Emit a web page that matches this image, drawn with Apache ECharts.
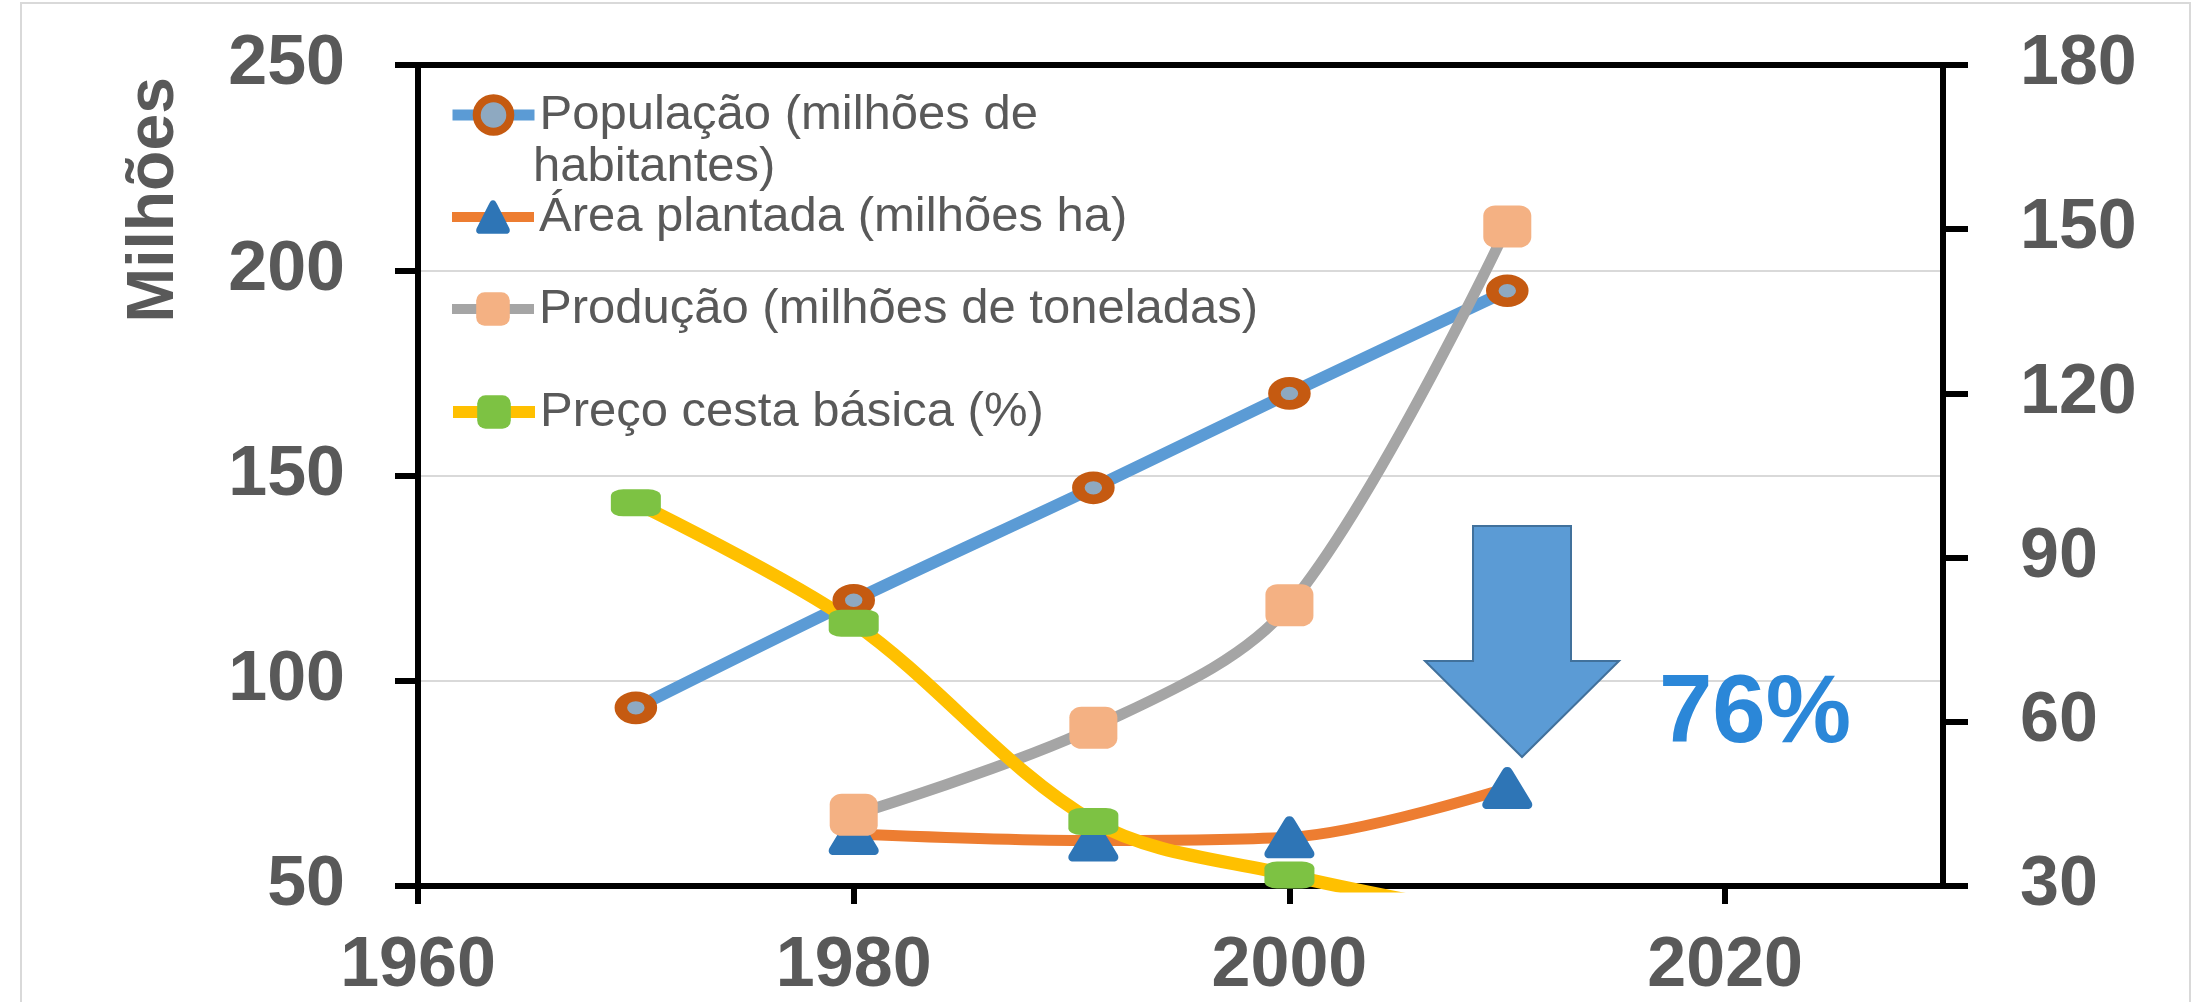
<!DOCTYPE html>
<html><head><meta charset="utf-8">
<script src="https://cdn.jsdelivr.net/npm/echarts@6/dist/echarts.min.js"></script>
<style>html,body{margin:0;padding:0;background:#fff}#c{width:2207px;height:1002px}</style>
</head><body><div id="c"></div>
<script>
// ---- data ----
const yearsPop = [1970, 1980, 1991, 2000, 2010];
const populacao = [93.4, 119.6, 147, 170, 195];
const yearsAgro = [1980, 1991, 2000, 2010];
const areaPlantada = [39.5, 38.3, 38.9, 47.9];
const producao = [43, 58.9, 81.3, 150.5];
const yearsPreco = [1970, 1980, 1991, 2000, 2010];
const precoCesta = [100, 78, 41.8, 32, 24];
const xTicks = [1960, 1980, 2000, 2020];
const leftAxisRange = [50, 250, 50];
const rightAxisRange = [30, 180, 30];
const names = ['População (milhões de habitantes)', 'Área plantada (milhões ha)', 'Produção (milhões de toneladas)', 'Preço cesta básica (%)'];
const legendLabels = ['População (milhões de', 'Área plantada (milhões ha)', 'Produção (milhões de toneladas)', 'Preço cesta básica (%)'];
const legendSecondLine = 'habitantes)';
const quedaLabel = '76%';
const yTitle = 'Milhões';

const pairs = (xs, ys) => xs.map((x, i) => [x, ys[i]]);
const FONT = 'Liberation Sans, Arial, sans-serif';
const GRAY = '#595959';
const SMOOTH = 0.33;
const ellipse = 'path://M0,50 A50,50 0 1,1 100,50 A50,50 0 1,1 0,50 Z';
const tri = 'path://M50,4 C56,4 58,8 61,14 L96,80 C100,88 97,96 88,96 L12,96 C3,96 0,88 4,80 L39,14 C42,8 44,4 50,4 Z';

const chart = echarts.init(document.getElementById('c'), null, {renderer: 'canvas'});

function mkLegend(i, top, lw, bw) {
  return {
    data: [names[i]], left: 447, top: top, orient: 'vertical', padding: 0,
    itemWidth: 82, itemHeight: 42, selectedMode: false,
    formatter: () => legendLabels[i],
    textStyle: {fontSize: 49, color: GRAY, fontFamily: FONT, lineHeight: 52},
    lineStyle: {width: lw},
    itemStyle: {borderWidth: bw}
  };
}

const axisLineStyle = {color: '#000', width: 6};
const labelStyle = {fontSize: 70, fontWeight: 'bold', color: GRAY, fontFamily: FONT};

chart.setOption({
  backgroundColor: '#fff',
  animation: false,
  grid: {left: 418, right: 264, top: 65, bottom: 110, containLabel: false},
  legend: [
    mkLegend(0, 115 - 26, 11, 8),
    mkLegend(1, 217 - 26, 10, 0),
    mkLegend(2, 309 - 26, 10, 0),
    mkLegend(3, 412 - 26, 12, 0)
  ],
  xAxis: [{
    type: 'value', position: 'bottom', min: 1960, max: 2030, interval: 20,
    axisLine: {show: true, lineStyle: axisLineStyle},
    axisTick: {show: true, length: 18, lineStyle: axisLineStyle, customValues: xTicks},
    axisLabel: Object.assign({margin: 46, customValues: xTicks, formatter: v => String(v)}, labelStyle),
    splitLine: {show: false}
  }, {
    type: 'value', position: 'top', min: 1960, max: 2030,
    axisLine: {show: true, lineStyle: axisLineStyle},
    axisTick: {show: false}, axisLabel: {show: false}, splitLine: {show: false}
  }],
  yAxis: [{
    type: 'value', position: 'left', min: leftAxisRange[0], max: leftAxisRange[1], interval: leftAxisRange[2],
    axisLine: {show: true, lineStyle: axisLineStyle},
    axisTick: {show: true, length: 23, lineStyle: axisLineStyle},
    axisLabel: Object.assign({margin: 73}, labelStyle),
    splitLine: {show: true, lineStyle: {color: '#D9D9D9', width: 2}}
  }, {
    type: 'value', position: 'right', min: rightAxisRange[0], max: rightAxisRange[1], interval: rightAxisRange[2],
    axisLine: {show: true, lineStyle: axisLineStyle},
    axisTick: {show: true, length: 25, lineStyle: axisLineStyle},
    axisLabel: Object.assign({margin: 77}, labelStyle),
    splitLine: {show: false}
  }],
  series: [{
    name: names[0], type: 'line', xAxisIndex: 0, yAxisIndex: 0, smooth: SMOOTH, clip: true,
    data: pairs(yearsPop, populacao),
    lineStyle: {color: '#5B9BD5', width: 12},
    symbol: ellipse, symbolSize: [30, 23],
    itemStyle: {color: '#8EA9C1', borderColor: '#C55A11', borderWidth: 11}
  }, {
    name: names[1], type: 'line', xAxisIndex: 0, yAxisIndex: 1, smooth: SMOOTH, clip: true,
    data: pairs(yearsAgro, areaPlantada),
    lineStyle: {color: '#ED7D31', width: 11},
    symbol: tri, symbolSize: [50, 42],
    itemStyle: {color: '#2E75B6'}
  }, {
    name: names[2], type: 'line', xAxisIndex: 0, yAxisIndex: 1, smooth: SMOOTH, clip: true,
    data: pairs(yearsAgro, producao),
    lineStyle: {color: '#A5A5A5', width: 11},
    symbol: 'roundRect', symbolSize: [48, 42],
    itemStyle: {color: '#F4B183'}
  }, {
    name: names[3], type: 'line', xAxisIndex: 0, yAxisIndex: 1, smooth: SMOOTH, clip: true,
    data: pairs(yearsPreco, precoCesta),
    lineStyle: {color: '#FFC000', width: 13},
    symbol: 'roundRect', symbolSize: [50, 27],
    itemStyle: {color: '#7DC243'}
  }],
  graphic: [
    {type: 'rect', shape: {x: 21, y: 3, width: 2169, height: 1100}, style: {fill: 'none', stroke: '#D9D9D9', lineWidth: 2}, z: -1},
    {type: 'text', x: 155, y: 200, rotation: Math.PI / 2,
     style: {text: yTitle, fontSize: 66, fontWeight: 'bold', fill: GRAY, fontFamily: FONT, align: 'center', verticalAlign: 'middle'}},
    {type: 'text', x: 533, y: 167,
     style: {text: legendSecondLine, fontSize: 49, fill: GRAY, fontFamily: FONT, align: 'left', verticalAlign: 'middle'}},
    {type: 'polygon', shape: {points: [[1473, 526], [1571, 526], [1571, 661], [1619, 661], [1522, 757], [1425, 661], [1473, 661]]},
     style: {fill: '#5B9BD5', stroke: '#41719C', lineWidth: 2}, z: 10},
    {type: 'text', x: 1755, y: 716,
     style: {text: quedaLabel, fontSize: 96, fontWeight: 'bold', fill: '#2B87D8', fontFamily: FONT, align: 'center', verticalAlign: 'middle'}, z: 10}
  ]
});
</script></body></html>
